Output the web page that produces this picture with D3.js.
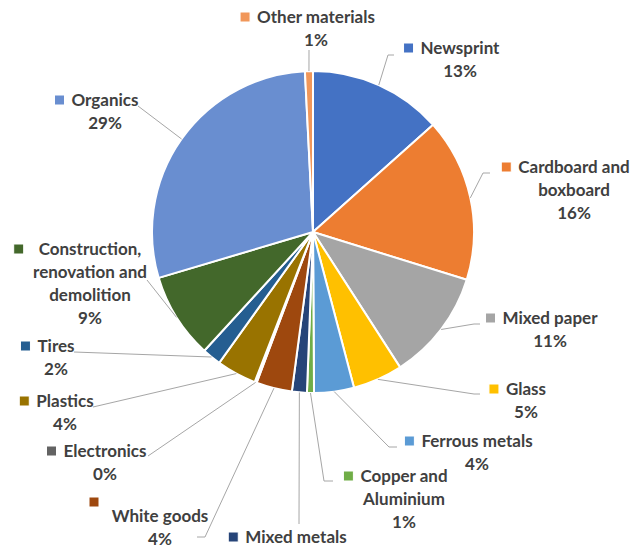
<!DOCTYPE html>
<html>
<head>
<meta charset="utf-8">
<script src="https://cdn.jsdelivr.net/npm/d3@7/dist/d3.min.js"></script>
<style>
  html, body { margin: 0; padding: 0; background: #ffffff; }
  svg { display: block; }
  .lbl { font-family: Lato, "Open Sans", sans-serif; font-weight: 700; font-size: 17px; fill: #404040; }
</style>
</head>
<body>
<svg id="chart" width="634" height="548"></svg>
<script>
// Waste composition by material (share of total, %)
const categories = [
  "Newsprint", "Cardboard and boxboard", "Mixed paper", "Glass", "Ferrous metals",
  "Copper and Aluminium", "Mixed metals", "White goods", "Electronics", "Plastics",
  "Tires", "Construction, renovation and demolition", "Organics", "Other materials"
];
const values = [13.4, 16.4, 11.1, 5.0, 4.0, 0.7, 1.5, 3.6, 0.2, 4.0, 1.9, 8.6, 28.8, 0.8];
const colors = [
  "#4472C4", "#ED7D31", "#A5A5A5", "#FFC000", "#5B9BD5", "#70AD47", "#264478",
  "#9E480E", "#636363", "#997300", "#255E91", "#43682B", "#698ED0", "#F1975A"
];
// How each category name wraps inside its label
const wrapped = [
  ["Newsprint"], ["Cardboard and", "boxboard"], ["Mixed paper"], ["Glass"], ["Ferrous metals"],
  ["Copper and", "Aluminium"], ["Mixed metals"], ["White goods"], ["Electronics"], ["Plastics"],
  ["Tires"], ["Construction,", "renovation and", "demolition"], ["Organics"], ["Other materials"]
];

// Label placement: block centre x, first-line centre y, key offsets, leader bends
const layout = [
  { cx: 460, y: 48,  leader: [[388, 55], [394, 55]] },
  { cx: 574, y: 167, leader: [[483, 173], [490, 173]] },
  { cx: 550, y: 318, leader: [[474, 324], [480, 324]] },
  { cx: 526, y: 389, leader: [[474, 394], [480, 394]] },
  { cx: 477, y: 441, leader: [[389, 447], [397, 447]] },
  { cx: 404, y: 476, leader: [[324, 481], [333, 481]] },
  { cx: 296, y: 537, leader: [[299, 524]] },
  { cx: 160, y: 516, keyX: 89, keyY: 502, leader: [[205, 537], [197, 537]] },
  { cx: 105, y: 451, leader: [[148, 456]] },
  { cx: 65,  y: 401, leader: [[93, 407]] },
  { cx: 56,  y: 346, leader: [[74, 352]] },
  { cx: 90,  y: 249, keyGap: 15, leader: [[147, 280]] },
  { cx: 105, y: 100, leader: [[138, 106]] },
  { cx: 316, y: 17,  leader: [[309, 50]] }
];

const width = 634, height = 548;
const cx = 313, cy = 232, radius = 161;
const lineH = 23, keySize = 10;

const svg = d3.select("#chart");
const total = d3.sum(values);

const pie = d3.pie().sort(null).value(d => d).startAngle(0).endAngle(2 * Math.PI);
const arcs = pie(values);
const arc = d3.arc().innerRadius(0).outerRadius(radius);
const edge = d3.arc().innerRadius(radius).outerRadius(radius);

const g = svg.append("g").attr("transform", `translate(${cx},${cy})`);

g.selectAll("path.slice")
  .data(arcs)
  .join("path")
  .attr("class", "slice")
  .attr("d", arc)
  .attr("fill", (d, i) => colors[i])
  .attr("stroke", "#ffffff")
  .attr("stroke-width", 2)
  .attr("stroke-linejoin", "round");

// Leader lines from the slice rim to each label
const line = d3.line();
svg.selectAll("path.leader")
  .data(arcs)
  .join("path")
  .attr("class", "leader")
  .attr("d", (d, i) => {
    const [x, y] = edge.centroid(d);
    return line([[cx + x, cy + y], ...layout[i].leader]);
  })
  .attr("fill", "none")
  .attr("stroke", "#A6A6A6")
  .attr("stroke-width", 1);

// Labels: wrapped name, key square, rounded percentage
const pct = v => Math.round(v / total * 100) + "%";
arcs.forEach((d, i) => {
  const L = layout[i];
  const lines = wrapped[i].concat([pct(values[i])]);
  const grp = svg.append("g");
  const texts = lines.map((t, k) =>
    grp.append("text")
      .attr("class", "lbl")
      .attr("x", L.cx)
      .attr("y", L.y + k * lineH)
      .attr("dy", "0.35em")
      .attr("text-anchor", "middle")
      .text(t)
  );
  const w = texts[0].node().getComputedTextLength();
  const kx = L.keyX !== undefined ? L.keyX : L.cx - w / 2 - (L.keyGap || 7) - keySize;
  const ky = L.keyY !== undefined ? L.keyY : L.y;
  grp.append("rect")
    .attr("x", kx)
    .attr("y", ky - keySize / 2)
    .attr("width", keySize)
    .attr("height", keySize)
    .attr("fill", colors[i])
    .attr("stroke", "#ffffff")
    .attr("stroke-width", 1);
});
</script>
</body>
</html>
